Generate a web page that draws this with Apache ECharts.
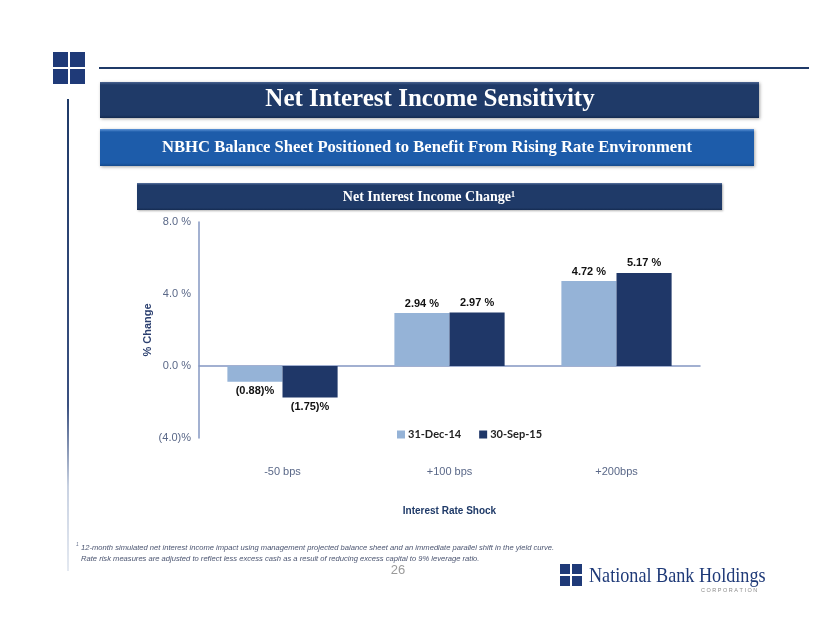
<!DOCTYPE html>
<html><head><meta charset="utf-8">
<script src="https://cdn.jsdelivr.net/npm/echarts@6/dist/echarts.min.js"></script>
<style>html,body{margin:0;padding:0;background:#fff}#c{width:822px;height:635px}</style>
</head><body><div id="c"></div>
<script>
// ---- data ----
const categories = ['-50 bps', '+100 bps', '+200bps'];
const seriesNames = ['31-Dec-14', '30-Sep-15'];
const dec14 = [-0.88, 2.94, 4.72];
const sep15 = [-1.75, 2.97, 5.17];
const yMin = -4, yMax = 8, yStep = 4;
const titleText = 'Net Interest Income Sensitivity';
const subtitleText = 'NBHC Balance Sheet Positioned to Benefit From Rising Rate Environment';
const headerText = 'Net Interest Income Change\u00b9';
const footLine1 = '12-month simulated net interest income impact using management projected balance sheet and an immediate parallel shift in the yield curve.';
const footLine2 = 'Rate risk measures are adjusted to reflect less excess cash as a result of reducing excess capital to 9% leverage ratio.';
const pageNo = '26';

const LIGHT = '#95b3d7', DARK = '#1f3768', NAVY = '#1f3a68';

function pctLabel(v) {
  return v < 0 ? '(' + Math.abs(v).toFixed(2) + ')%' : v.toFixed(2) + ' %';
}
function tickLabel(v) {
  return v < 0 ? '(' + Math.abs(v).toFixed(1) + ')%' : v.toFixed(1) + ' %';
}
function barData(arr) {
  return arr.map(v => ({
    value: v,
    label: { position: v < 0 ? 'bottom' : 'top', distance: 4 }
  }));
}
function navyGrad(top, mid, bot) {
  return new echarts.graphic.LinearGradient(0, 0, 0, 1, [
    { offset: 0, color: top }, { offset: 0.08, color: mid }, { offset: 0.92, color: mid }, { offset: 1, color: bot }
  ]);
}

const chart = echarts.init(document.getElementById('c'), null, { renderer: 'canvas' });

const sq = (x, y, s) => ({ type: 'rect', shape: { x: x, y: y, width: s, height: s }, style: { fill: '#1f3a78' } });

const graphic = [
  // top-left logo squares
  sq(53, 52, 15), sq(70, 52, 15), sq(53, 69, 15), sq(70, 69, 15),
  // top horizontal rule
  { type: 'rect', shape: { x: 99, y: 67, width: 710, height: 2 }, style: { fill: NAVY } },
  // left vertical rule
  { type: 'rect', shape: { x: 67, y: 99, width: 2, height: 472 },
    style: { fill: new echarts.graphic.LinearGradient(0, 0, 0, 1, [
      { offset: 0, color: NAVY }, { offset: 0.65, color: '#3a5080' }, { offset: 0.82, color: '#c9d2e2' }, { offset: 1, color: '#e4e9f1' }]) } },
  // title bar
  { type: 'rect', shape: { x: 100, y: 82, width: 659, height: 36 },
    style: { fill: navyGrad('#4a6390', '#1f3a68', '#142a50'), shadowBlur: 3, shadowColor: 'rgba(0,0,0,0.35)', shadowOffsetX: 1, shadowOffsetY: 1 } },
  { type: 'text', x: 430, y: 100, style: { text: titleText, fill: '#fff', font: 'bold 25px "Liberation Serif"', align: 'center', verticalAlign: 'middle' } },
  // subtitle bar
  { type: 'rect', shape: { x: 100, y: 129, width: 654, height: 37 },
    style: { fill: navyGrad('#5f95d8', '#1d5caa', '#154a8c'), shadowBlur: 3, shadowColor: 'rgba(0,0,0,0.35)', shadowOffsetX: 1, shadowOffsetY: 1 } },
  { type: 'text', x: 427, y: 148, style: { text: subtitleText, fill: '#fff', font: 'bold 16.6px "Liberation Serif"', align: 'center', verticalAlign: 'middle' } },
  // chart header bar
  { type: 'rect', shape: { x: 137, y: 183, width: 585, height: 27 },
    style: { fill: navyGrad('#5a73a0', '#1f3a68', '#142a50'), shadowBlur: 2, shadowColor: 'rgba(0,0,0,0.3)', shadowOffsetX: 1, shadowOffsetY: 1 } },
  { type: 'text', x: 429, y: 197, style: { text: headerText, fill: '#fff', font: 'bold 14px "Liberation Serif"', align: 'center', verticalAlign: 'middle' } },
  // footnote
  { type: 'text', x: 76, y: 545, style: { text: '1', fill: '#6a7590', font: 'italic 5px "Liberation Sans"', align: 'left', verticalAlign: 'middle' } },
  { type: 'text', x: 81, y: 548, style: { text: footLine1, fill: '#4a5470', font: 'italic 7.6px "Liberation Sans"', align: 'left', verticalAlign: 'middle' } },
  { type: 'text', x: 81, y: 559, style: { text: footLine2, fill: '#4a5470', font: 'italic 7.6px "Liberation Sans"', align: 'left', verticalAlign: 'middle' } },
  { type: 'text', x: 398, y: 570, style: { text: pageNo, fill: '#9a9a9a', font: '13px "Liberation Sans"', align: 'center', verticalAlign: 'middle' } },
  // bottom-right logo
  sq(560, 564, 10), sq(572, 564, 10), sq(560, 576, 10), sq(572, 576, 10),
  { type: 'text', x: 589, y: 576, scaleX: 0.865, originX: 0, originY: 0,
    style: { text: 'National Bank Holdings', fill: '#1f3a78', font: '21px "Liberation Serif"', align: 'left', verticalAlign: 'middle' } },
  { type: 'text', x: 701, y: 590, style: { text: 'C O R P O R A T I O N', fill: '#8a8a8a', font: '5.5px "Liberation Sans"', align: 'left', verticalAlign: 'middle' } }
];

const option = {
  animation: false,
  backgroundColor: '#ffffff',
  graphic: graphic,
  legend: {
    data: seriesNames,
    left: 392, top: 424,
    itemWidth: 8, itemHeight: 8, itemGap: 18,
    icon: 'rect',
    textStyle: { fontFamily: 'Lato', fontWeight: 'bold', fontSize: 11, color: '#222', padding: [0, 0, 0, -2] }
  },
  grid: { left: 199, right: 122, top: 222, bottom: 197 },
  xAxis: [
    {
      type: 'category', data: categories,
      axisLine: { show: false, onZero: false }, axisTick: { show: false },
      axisLabel: { margin: 28, fontFamily: 'Liberation Sans', fontSize: 11, color: '#5a6888' },
      name: 'Interest Rate Shock', nameLocation: 'middle', nameGap: 68,
      nameTextStyle: { fontFamily: 'Liberation Sans', fontWeight: 'bold', fontSize: 10, color: '#1f3a68' }
    },
    {
      type: 'category', data: categories, position: 'bottom',
      axisLine: { show: true, onZero: true, lineStyle: { color: '#8497c2', width: 1.5 } },
      axisTick: { show: false }, axisLabel: { show: false }
    }
  ],
  yAxis: {
    type: 'value', min: yMin, max: yMax, interval: yStep,
    axisLine: { show: true, lineStyle: { color: '#8497c2', width: 1.5 } },
    axisTick: { show: false }, splitLine: { show: false },
    axisLabel: { formatter: tickLabel, fontFamily: 'Liberation Sans', fontSize: 11, color: '#5a6888', margin: 8 },
    name: '% Change', nameLocation: 'middle', nameRotate: 90, nameGap: 46, nameMoveOverlap: false,
    nameTextStyle: { fontFamily: 'Liberation Sans', fontWeight: 'bold', fontSize: 11, color: '#2b3f6f' }
  },
  series: [
    { name: seriesNames[0], type: 'bar', xAxisIndex: 0, data: barData(dec14), barGap: '0%', barCategoryGap: '34%',
      itemStyle: { color: LIGHT },
      label: { show: true, formatter: p => pctLabel(p.value), fontFamily: 'Liberation Sans', fontWeight: 'bold', fontSize: 11, color: '#111' } },
    { name: seriesNames[1], type: 'bar', xAxisIndex: 0, data: barData(sep15), barGap: '0%', barCategoryGap: '34%',
      itemStyle: { color: DARK },
      label: { show: true, formatter: p => pctLabel(p.value), fontFamily: 'Liberation Sans', fontWeight: 'bold', fontSize: 11, color: '#111' } }
  ]
};
chart.setOption(option);
</script>
</body></html>
